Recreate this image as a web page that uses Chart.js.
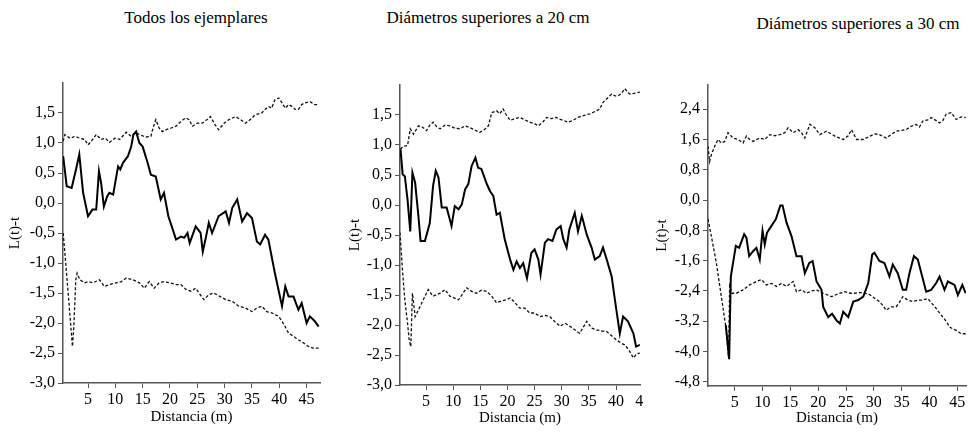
<!DOCTYPE html>
<html lang="es">
<head>
  <meta charset="UTF-8" />
  <title>L(t)-t por clase diamétrica</title>
  <script src="https://cdn.jsdelivr.net/npm/chart.js"></script>
  <style>
    body { margin: 0; background: #fff; width: 980px; height: 437px; position: relative; overflow: hidden; font-family: "Liberation Serif", "Times New Roman", serif; }
    .title { position: absolute; font-size: 17px; line-height: 20px; color: #000; white-space: nowrap; transform: translateX(-50%); }
    canvas { position: absolute; }
  </style>
</head>
<body>
  <div class="title" style="left:196px; top:8px;">Todos los ejemplares</div>
  <div class="title" style="left:488px; top:8px;">Diámetros superiores a 20 cm</div>
  <div class="title" style="left:858px; top:14px;">Diámetros superiores a 30 cm</div>
  <canvas id="c1" width="330" height="364" style="left:0px; top:73px;"></canvas>
  <canvas id="c2" width="303" height="362" style="left:340px; top:75px;"></canvas>
  <canvas id="c3" width="330" height="362" style="left:650px; top:75px;"></canvas>

  <script>
    // distance (m) / L(t)-t pairs
    const xTicks = [5, 10, 15, 20, 25, 30, 35, 40, 45];
    const yTicks12 = [-3.0, -2.5, -2.0, -1.5, -1.0, -0.5, 0.0, 0.5, 1.0, 1.5];
    const yTicks3 = [-4.8, -4.0, -3.2, -2.4, -1.6, -0.8, 0.0, 0.8, 1.6, 2.4];

    // Todos los ejemplares
    const p1Observed = [[0.45,0.78],[1.1,0.28],[2.0,0.25],[2.8,0.56],[3.4,0.81],[4.1,0.17],[5.0,-0.22],[5.8,-0.11],[6.5,-0.11],[7.0,0.53],[7.4,0.33],[7.9,-0.06],[8.5,0.11],[8.9,0.17],[9.6,0.14],[10.5,0.61],[10.9,0.56],[11.4,0.67],[12.3,0.78],[12.9,0.94],[13.3,1.14],[13.8,1.19],[14.4,1.0],[15.0,0.94],[15.9,0.67],[16.5,0.47],[17.4,0.44],[18.3,0.06],[18.9,0.17],[19.7,-0.22],[20.5,-0.44],[21.1,-0.61],[22.0,-0.56],[22.6,-0.58],[23.2,-0.5],[23.6,-0.67],[24.7,-0.39],[25.6,-0.5],[26.0,-0.81],[26.6,-0.56],[27.1,-0.33],[27.7,-0.5],[28.9,-0.22],[30.2,-0.14],[30.8,-0.33],[31.4,-0.08],[32.3,0.06],[33.2,-0.31],[34.1,-0.17],[35.0,-0.25],[35.9,-0.64],[36.5,-0.69],[37.4,-0.53],[38.0,-0.61],[39.2,-1.17],[40.5,-1.72],[41.1,-1.39],[41.7,-1.56],[42.6,-1.56],[43.5,-1.78],[44.1,-1.67],[45.0,-2.0],[45.6,-1.89],[46.5,-1.97],[47.2,-2.06]];
    const p1Upper = [[0.45,1.03],[0.76,1.14],[1.7,1.08],[2.6,1.11],[3.5,1.08],[4.4,1.06],[5.0,0.97],[5.6,1.03],[6.5,1.14],[7.4,1.06],[8.2,1.08],[8.9,1.01],[9.9,1.08],[10.8,1.06],[12.0,1.18],[12.9,1.11],[13.8,1.17],[14.4,1.14],[15.6,1.1],[16.5,1.11],[16.9,1.25],[17.4,1.39],[18.0,1.25],[18.6,1.19],[19.2,1.22],[20.2,1.25],[21.1,1.28],[22.0,1.36],[22.9,1.42],[23.5,1.39],[24.1,1.28],[25.0,1.33],[25.9,1.33],[26.8,1.39],[27.4,1.44],[28.2,1.31],[28.9,1.22],[29.9,1.33],[30.8,1.39],[32.0,1.44],[32.9,1.39],[33.8,1.33],[34.7,1.39],[35.6,1.47],[36.8,1.5],[37.4,1.56],[38.0,1.61],[38.6,1.58],[39.2,1.72],[39.9,1.75],[40.5,1.67],[41.1,1.58],[41.7,1.64],[42.3,1.61],[42.9,1.56],[43.5,1.56],[44.1,1.64],[44.7,1.67],[45.6,1.69],[46.5,1.64],[47.2,1.64]];
    const p1Lower = [[0.45,-0.5],[0.76,-0.83],[1.36,-1.5],[1.8,-2.0],[2.15,-2.39],[2.4,-2.06],[2.76,-1.28],[3.0,-1.17],[3.5,-1.28],[4.4,-1.33],[5.0,-1.31],[5.9,-1.33],[7.1,-1.28],[8.0,-1.39],[8.9,-1.36],[10.2,-1.33],[11.1,-1.31],[12.0,-1.25],[13.2,-1.28],[14.4,-1.33],[15.3,-1.42],[16.2,-1.31],[17.1,-1.42],[18.0,-1.33],[18.9,-1.31],[19.9,-1.33],[21.1,-1.36],[22.0,-1.36],[22.9,-1.44],[23.8,-1.47],[24.7,-1.42],[25.3,-1.5],[26.2,-1.61],[27.1,-1.53],[28.0,-1.5],[29.2,-1.56],[30.2,-1.61],[31.4,-1.64],[32.6,-1.72],[33.8,-1.75],[35.0,-1.81],[35.9,-1.75],[36.8,-1.72],[37.7,-1.81],[38.6,-1.83],[39.9,-1.89],[40.5,-1.97],[41.2,-2.08],[41.7,-2.17],[42.6,-2.22],[43.5,-2.28],[44.4,-2.33],[45.3,-2.39],[46.2,-2.42],[47.2,-2.42]];

    // Diámetros superiores a 20 cm
    const p2Observed = [[0.3,0.93],[0.7,0.51],[1.1,0.48],[1.6,0.09],[2.1,-0.44],[2.5,0.54],[3.0,0.37],[3.6,-0.18],[4.0,-0.6],[4.8,-0.6],[5.7,-0.3],[6.3,0.32],[6.8,0.57],[7.3,0.46],[7.9,-0.04],[8.8,-0.04],[9.7,-0.35],[10.3,-0.02],[11.0,-0.07],[11.6,0.01],[12.2,0.26],[12.8,0.35],[13.4,0.65],[14.1,0.79],[14.6,0.62],[15.2,0.6],[16.2,0.35],[16.8,0.23],[17.4,0.15],[18.0,-0.16],[18.6,-0.13],[19.5,-0.57],[20.5,-0.91],[21.1,-1.08],[21.7,-0.94],[22.3,-1.05],[22.9,-0.97],[23.6,-1.22],[24.4,-0.8],[25.0,-0.74],[25.7,-0.91],[26.1,-1.16],[26.9,-0.63],[27.5,-0.57],[28.3,-0.6],[29.0,-0.41],[29.8,-0.35],[30.3,-0.57],[30.9,-0.71],[31.4,-0.41],[32.4,-0.13],[33.0,-0.44],[33.7,-0.18],[34.6,-0.49],[35.5,-0.71],[36.1,-0.91],[37.0,-0.85],[37.6,-0.71],[38.3,-0.91],[39.2,-1.19],[39.8,-1.58],[40.7,-2.14],[41.3,-1.86],[42.2,-1.94],[43.2,-2.14],[43.7,-2.36],[44.4,-2.33]];
    const p2Upper = [[0.3,0.93],[0.8,0.98],[1.6,0.99],[2.1,1.27],[2.7,1.18],[3.6,1.32],[4.3,1.3],[5.1,1.24],[5.7,1.33],[6.3,1.38],[7.0,1.3],[7.6,1.27],[8.5,1.33],[9.4,1.32],[10.3,1.28],[11.3,1.27],[12.2,1.32],[13.1,1.29],[14.0,1.25],[14.9,1.21],[15.8,1.26],[16.5,1.32],[17.1,1.54],[18.0,1.57],[18.6,1.52],[19.2,1.6],[19.8,1.5],[20.5,1.41],[21.4,1.44],[22.3,1.46],[23.2,1.42],[24.1,1.38],[24.9,1.36],[25.7,1.32],[26.5,1.38],[27.2,1.46],[28.1,1.44],[29.0,1.46],[29.6,1.43],[30.3,1.41],[31.2,1.38],[32.1,1.41],[33.0,1.46],[34.0,1.49],[35.2,1.52],[36.4,1.57],[37.0,1.6],[37.6,1.71],[38.4,1.78],[39.2,1.85],[39.8,1.82],[40.4,1.82],[41.0,1.86],[41.6,1.94],[42.0,1.9],[42.5,1.85],[43.3,1.86],[44.4,1.88]];
    const p2Lower = [[0.2,-0.46],[0.7,-1.13],[1.1,-1.58],[1.6,-1.97],[1.9,-2.25],[2.2,-2.36],[2.5,-1.47],[3.0,-1.86],[3.6,-1.75],[4.5,-1.58],[5.4,-1.41],[6.3,-1.52],[7.6,-1.47],[8.5,-1.41],[9.4,-1.52],[11.0,-1.58],[12.5,-1.38],[13.4,-1.44],[14.3,-1.47],[15.2,-1.42],[16.2,-1.44],[17.1,-1.52],[18.0,-1.63],[18.9,-1.6],[19.8,-1.58],[20.5,-1.55],[21.1,-1.6],[22.3,-1.72],[23.2,-1.72],[24.1,-1.8],[25.0,-1.8],[26.0,-1.86],[27.0,-1.84],[27.8,-1.86],[28.8,-1.95],[29.7,-2.02],[30.6,-1.97],[31.5,-2.02],[32.4,-2.08],[33.3,-2.14],[34.6,-1.94],[35.5,-2.05],[36.4,-2.08],[37.4,-2.1],[38.3,-2.11],[39.2,-2.18],[40.1,-2.25],[40.9,-2.3],[41.6,-2.33],[42.4,-2.42],[43.2,-2.55],[43.8,-2.48],[44.4,-2.47]];

    // Diámetros superiores a 30 cm
    const p3Observed = [[3.4,-3.3],[4.0,-4.2],[4.3,-2.02],[4.7,-1.66],[5.2,-1.21],[5.8,-1.26],[6.7,-0.9],[7.1,-0.99],[7.6,-1.48],[8.3,-1.35],[8.9,-1.26],[9.5,-1.57],[10.0,-0.81],[10.4,-1.17],[10.8,-0.86],[11.6,-0.68],[12.4,-0.5],[13.2,-0.14],[13.6,-0.14],[14.3,-0.59],[15.2,-0.95],[16.1,-1.48],[17.0,-1.48],[17.6,-1.93],[18.4,-1.66],[19.0,-1.61],[19.7,-2.15],[20.6,-2.37],[20.9,-2.82],[21.8,-3.09],[22.5,-3.0],[23.3,-3.18],[23.9,-3.26],[24.5,-2.95],[25.4,-3.09],[26.3,-2.68],[27.2,-2.64],[28.1,-2.55],[29.0,-2.19],[29.7,-1.44],[30.1,-1.39],[31.0,-1.61],[31.9,-1.66],[32.8,-2.02],[33.4,-1.7],[34.3,-1.93],[35.2,-2.37],[35.8,-2.37],[36.4,-1.93],[37.2,-1.48],[37.9,-1.57],[39.4,-2.42],[40.3,-2.37],[41.2,-2.19],[41.8,-2.02],[42.7,-2.37],[43.3,-2.15],[44.5,-2.24],[45.1,-2.51],[45.9,-2.24],[46.5,-2.46]];
    const p3Upper = [[0.2,1.42],[0.5,1.02],[0.8,1.2],[1.4,1.42],[2.0,1.6],[2.6,1.51],[3.2,1.55],[3.8,1.78],[4.7,1.64],[5.6,1.6],[6.5,1.51],[7.1,1.69],[7.7,1.6],[8.3,1.55],[9.5,1.64],[10.4,1.6],[11.3,1.73],[12.2,1.7],[13.1,1.73],[14.0,1.78],[14.6,1.91],[15.5,1.78],[16.4,1.86],[17.0,1.78],[17.6,1.64],[18.5,2.0],[19.4,1.91],[20.3,1.73],[21.5,1.82],[22.2,1.76],[23.0,1.69],[24.5,1.6],[25.4,1.7],[26.0,1.86],[26.9,1.6],[28.1,1.6],[29.3,1.69],[30.2,1.75],[31.0,1.73],[32.2,1.64],[33.1,1.73],[34.0,1.82],[34.9,1.84],[35.8,1.86],[36.7,1.95],[37.6,2.0],[38.2,1.93],[38.8,2.09],[39.7,2.12],[40.3,2.18],[41.2,2.1],[41.8,2.04],[42.4,2.1],[43.0,2.27],[43.9,2.31],[44.8,2.13],[45.7,2.2],[46.5,2.18]];
    const p3Lower = [[0.2,-0.5],[0.8,-0.95],[1.7,-1.66],[2.6,-2.55],[3.4,-3.35],[3.9,-4.16],[4.1,-2.19],[4.4,-2.46],[5.3,-2.46],[6.5,-2.37],[7.7,-2.24],[8.9,-2.15],[9.8,-2.1],[10.7,-2.24],[11.6,-2.2],[12.5,-2.28],[13.4,-2.2],[14.3,-2.28],[15.5,-2.15],[16.1,-2.42],[17.0,-2.37],[17.9,-2.46],[18.8,-2.4],[19.7,-2.37],[20.9,-2.46],[21.6,-2.5],[22.4,-2.55],[23.2,-2.5],[23.9,-2.46],[24.8,-2.42],[25.7,-2.46],[26.6,-2.46],[27.5,-2.44],[28.4,-2.46],[29.3,-2.5],[30.2,-2.6],[31.0,-2.68],[31.6,-2.78],[32.2,-2.91],[33.1,-2.82],[34.0,-2.82],[34.6,-2.7],[35.2,-2.55],[36.1,-2.64],[37.0,-2.68],[37.9,-2.64],[38.8,-2.64],[39.7,-2.6],[40.5,-2.74],[41.2,-2.86],[41.8,-2.98],[42.4,-3.09],[43.0,-3.2],[43.6,-3.35],[44.2,-3.4],[44.8,-3.44],[45.7,-3.53],[46.5,-3.53]];

    const tickFont = { family: "Liberation Serif", size: 16 };
    const titleFont = { family: "Liberation Serif", size: 15 };
    const axisColor = '#555';

    function toXY(pairs) {
      return pairs.map(([x, y]) => ({ x: x, y: y }));
    }

    function drawPanel(id, p) {
      new Chart(document.getElementById(id), {
        type: 'line',
        data: {
          datasets: [
            { data: toXY(p.observed), borderColor: '#000', borderWidth: 2 },
            { data: toXY(p.upper), borderColor: '#111', borderWidth: 1.3, borderDash: [3, 2] },
            { data: toXY(p.lower), borderColor: '#111', borderWidth: 1.3, borderDash: [3, 2] }
          ]
        },
        options: {
          responsive: false,
          animation: false,
          layout: { padding: p.padding },
          elements: { point: { radius: 0 }, line: { tension: 0 } },
          plugins: { legend: { display: false }, tooltip: { enabled: false } },
          scales: {
            x: {
              type: 'linear', min: p.xMin, max: p.xMax,
              afterBuildTicks: s => { s.ticks = xTicks.map(v => ({ value: v })); },
              afterFit: s => { s.height = p.xHeight; s.paddingLeft = 0; s.paddingRight = 0; },
              ticks: { autoSkip: false, maxRotation: 0, font: tickFont, color: '#000', padding: 2 },
              grid: { drawOnChartArea: false, tickLength: 5, color: axisColor },
              border: { color: axisColor, width: 1.5 },
              title: { display: true, text: 'Distancia (m)', font: titleFont, color: '#000', padding: { top: 0, bottom: p.xTitlePad } }
            },
            y: {
              type: 'linear', min: p.yMin, max: p.yMax,
              afterBuildTicks: s => { s.ticks = p.yTicks.map(v => ({ value: v })); },
              afterFit: s => { s.width = p.yWidth; s.paddingTop = 0; s.paddingBottom = 0; },
              ticks: { autoSkip: false, font: tickFont, color: '#000', padding: 3,
                       callback: v => v.toFixed(1).replace('.', ',') },
              grid: { drawOnChartArea: false, tickLength: 5, color: axisColor },
              border: { color: axisColor, width: 1.5 },
              title: { display: true, text: 'L(t)-t', font: titleFont, color: '#000', padding: { top: p.yTitlePad, bottom: 0 } }
            }
          }
        }
      });
    }

    drawPanel('c1', { observed: p1Observed, upper: p1Upper, lower: p1Lower,
      xMin: 0.42, xMax: 47.45, yMin: -3, yMax: 2, yTicks: yTicks12,
      padding: { top: 10, right: 10, left: 0, bottom: 0 }, yWidth: 63, xHeight: 54, yTitlePad: 6, xTitlePad: 11 });
    drawPanel('c2', { observed: p2Observed, upper: p2Upper, lower: p2Lower,
      xMin: 0.21, xMax: 44.42, yMin: -3, yMax: 2, yTicks: yTicks12,
      padding: { top: 10, right: 3, left: 0, bottom: 0 }, yWidth: 60, xHeight: 52, yTitlePad: 6, xTitlePad: 10 });
    drawPanel('c3', { observed: p3Observed, upper: p3Upper, lower: p3Lower,
      xMin: 0.2, xMax: 46.56, yMin: -4.91, yMax: 3.04, yTicks: yTicks3,
      padding: { top: 10, right: 14, left: 0, bottom: 0 }, yWidth: 58, xHeight: 51, yTitlePad: 3, xTitlePad: 10 });
  </script>
</body>
</html>
